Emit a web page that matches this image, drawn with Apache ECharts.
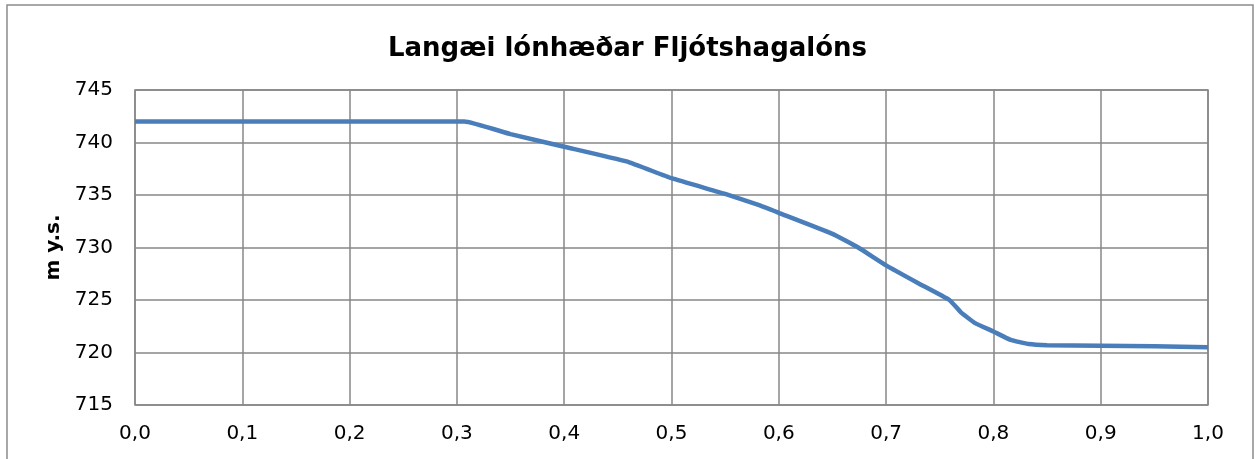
<!DOCTYPE html>
<html>
<head>
<meta charset="utf-8">
<script src="https://cdn.jsdelivr.net/npm/echarts@6/dist/echarts.min.js"></script>
<style>
  html, body { margin: 0; padding: 0; background: #fff; }
  #chart { width: 1255px; height: 459px; }
</style>
</head>
<body>
<div id="chart"></div>
<script>
// duration fraction (x) and reservoir level in m y.s. (y)
const fraction = [0, 0.1, 0.2, 0.307, 0.35, 0.4, 0.458, 0.5, 0.55, 0.581, 0.6, 0.65, 0.674, 0.7, 0.73, 0.759, 0.77, 0.783, 0.8, 0.816, 0.833, 0.85, 0.9, 0.95, 1.0];
const level = [742, 742, 742, 742, 740.8, 739.6, 738.2, 736.6, 735.1, 734.05, 733.3, 731.3, 730.0, 728.3, 726.6, 725.0, 723.8, 722.8, 722.0, 721.2, 720.8, 720.7, 720.65, 720.6, 720.5];

const titleText = 'Langæi lónhæðar Fljótshagalóns';
const yName = 'm y.s.';

const chart = echarts.init(document.getElementById('chart'));

const font = 'Verdana, "DejaVu Sans", sans-serif';
const gridColor = '#878787';

chart.setOption({
  animation: false,
  title: {
    text: titleText,
    left: 'center',
    top: 31,
    textStyle: { fontFamily: font, fontSize: 26, fontWeight: 'bold', color: '#000' }
  },
  graphic: [{
    type: 'rect',
    shape: { x: 7, y: 5, width: 1246, height: 480 },
    style: { fill: 'none', stroke: '#8c8c8c', lineWidth: 1.5 },
    silent: true
  }],
  grid: { left: 135, right: 47, top: 90, bottom: 54, containLabel: false, show: true, borderColor: gridColor, borderWidth: 1.5 },
  xAxis: {
    type: 'value',
    min: 0,
    max: 1,
    interval: 0.1,
    axisLine: { show: false },
    axisTick: { show: false },
    splitLine: { show: true, lineStyle: { color: gridColor, width: 1.5 } },
    axisLabel: {
      margin: 19,
      fontFamily: font,
      fontSize: 20,
      color: '#000',
      formatter: v => v.toFixed(1).replace('.', ',')
    }
  },
  yAxis: {
    type: 'value',
    min: 715,
    max: 745,
    interval: 5,
    name: yName,
    nameLocation: 'middle',
    nameGap: 68,
    nameTextStyle: { fontFamily: font, fontSize: 20, fontWeight: 'bold', color: '#000' },
    axisLine: { show: false },
    axisTick: { show: false },
    splitLine: { show: true, lineStyle: { color: gridColor, width: 1.5 } },
    axisLabel: { margin: 22, fontFamily: font, fontSize: 20, color: '#000' }
  },
  series: [{
    type: 'line',
    data: fraction.map((x, i) => [x, level[i]]),
    showSymbol: false,
    smooth: 0.12,
    lineStyle: { color: '#4a7ebb', width: 4.5 }
  }]
});
</script>
</body>
</html>
